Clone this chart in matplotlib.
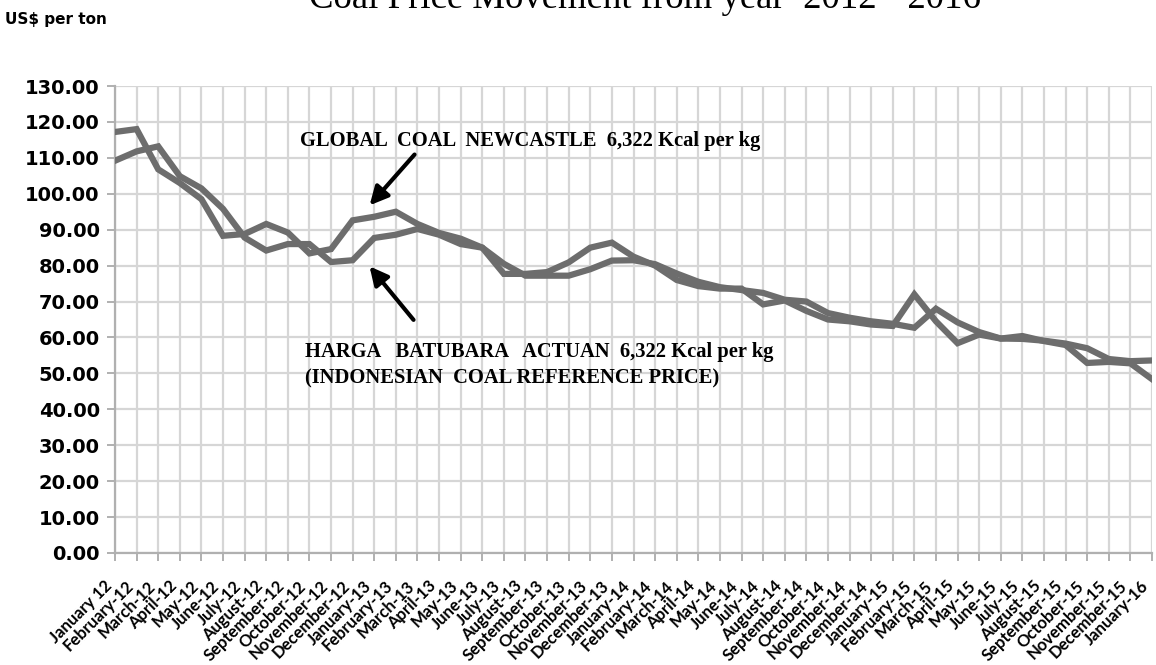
import numpy as np
import matplotlib.pyplot as plt

# month labels Jan-12 .. Jan-16
month_names = ["January", "February", "March", "April", "May", "June", "July",
               "August", "September", "October", "November", "December"]
years = ["12", "13", "14", "15"]
labels = [m + "-" + y for y in years for m in month_names] + ["January-16"]
labels[0] = "January 12"

# globalCOAL Newcastle (US$ per ton)
newcastle = [117.2, 118.0, 106.8, 103.0, 98.5, 88.3, 88.8, 91.6, 89.2, 83.4, 84.6, 92.6,
             93.6, 95.0, 91.6, 89.1, 87.5, 85.0, 77.7, 77.7, 78.2, 80.9, 85.0, 86.4,
             82.5, 80.0, 76.0, 74.3, 73.6, 73.6, 69.2, 70.3, 67.4, 65.0, 64.5, 63.6,
             63.2, 72.0, 64.5, 58.4, 60.8, 59.7, 60.4, 59.0, 57.9, 52.9, 53.2, 52.8,
             48.4]

# Harga Batubara Acuan (Indonesian coal reference price)
hba = [109.2, 111.8, 113.2, 104.9, 101.5, 95.8, 87.8, 84.2, 86.0, 86.0, 81.0, 81.5,
       87.7, 88.6, 90.2, 88.6, 86.0, 85.0, 80.5, 77.2, 77.2, 77.2, 79.0, 81.4,
       81.5, 80.4, 77.8, 75.5, 74.0, 73.2, 72.4, 70.5, 70.0, 66.8, 65.5, 64.5,
       63.8, 62.7, 68.0, 64.2, 61.5, 59.7, 59.6, 59.1, 58.3, 57.0, 54.0, 53.4,
       53.6]

x = np.arange(len(labels))
line_col = "#6d6d6d"

fig = plt.figure(figsize=(11.56, 6.65), dpi=100)
ax = fig.add_axes([115 / 1156, 1 - 553 / 665, 1037 / 1156, 467 / 665])

ax.plot(x, newcastle, color=line_col, lw=4.5, solid_joinstyle="miter", zorder=3)
ax.plot(x, hba, color=line_col, lw=4.5, solid_joinstyle="miter", zorder=3)

ax.set_xlim(0, len(labels) - 1)
ax.set_ylim(0, 130)
ax.set_yticks(np.arange(0, 131, 10))
ax.set_yticklabels(["%.2f" % v for v in np.arange(0, 131, 10)],
                   fontsize=14, fontweight="bold", family="DejaVu Sans")
ax.set_xticks(x)
ax.set_xticklabels(labels, rotation=45, ha="right", va="bottom", rotation_mode="anchor",
                   fontsize=12, fontweight="bold", family="Lato")

ax.grid(True, color="#d6d6d6", lw=1.6, zorder=0)
for s in ["top", "right"]:
    ax.spines[s].set_visible(False)
for s in ["left", "bottom"]:
    ax.spines[s].set_color("#b0b0b0")
    ax.spines[s].set_linewidth(1.6)
ax.tick_params(axis="both", color="#b0b0b0", width=1.4, length=6)
ax.tick_params(axis="y", pad=5)
ax.tick_params(axis="x", pad=20)

# annotations
ax.text(8.55, 113.4, "GLOBAL  COAL  NEWCASTLE  6,322 Kcal per kg",
        fontsize=14.8, fontweight="bold", family="Liberation Serif", va="baseline")
ax.text(8.8, 54.6, "HARGA   BATUBARA   ACTUAN  6,322 Kcal per kg",
        fontsize=14.8, fontweight="bold", family="Liberation Serif", va="baseline")
ax.text(8.8, 47.3, "(INDONESIAN  COAL REFERENCE PRICE)",
        fontsize=14.8, fontweight="bold", family="Liberation Serif", va="baseline")

arrow = dict(arrowstyle="-|>,head_length=1.1,head_width=0.55", color="black", lw=3)
ax.annotate("", xy=(11.7, 96.2), xytext=(13.95, 111.5), arrowprops=arrow)
ax.annotate("", xy=(11.7, 80.4), xytext=(13.9, 64.3), arrowprops=arrow)

fig.text(5 / 1156, 1 - 24 / 665, "US$ per ton", fontsize=11, fontweight="bold",
         family="DejaVu Sans", va="baseline")
fig.text(645 / 1156, 1 - 8 / 665, "Coal Price Movement from year  2012 - 2016",
         fontsize=26.5, family="Liberation Serif", ha="center", va="baseline")

fig.savefig("out.png", dpi=100)
